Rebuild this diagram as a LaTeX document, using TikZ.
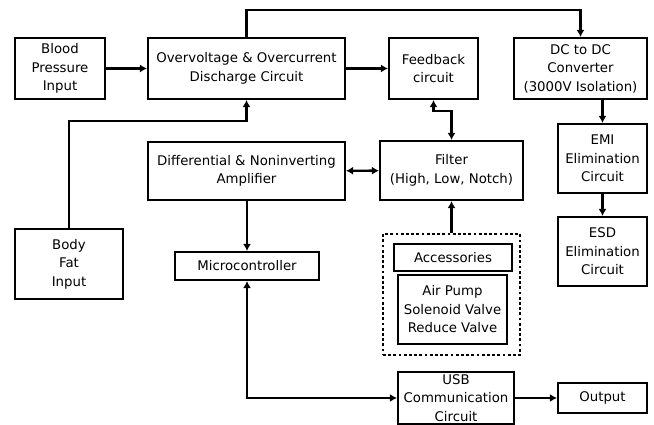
\documentclass[tikz,border=0pt]{standalone}
\usepackage{fontspec}
\setmainfont{DejaVu Sans}
\usetikzlibrary{arrows.meta}
\tikzset{every node/.style={font=\fontsize{13.3}{18.5}\selectfont}}
\colorlet{boxcol}{black}
\colorlet{linecol}{black}
\colorlet{bgcol}{white}
\tikzset{
  block/.style={draw=boxcol, line width=2.1pt, align=center, inner sep=0pt},
  frame/.style={draw=boxcol, line width=2.8pt, dash pattern=on 2.8pt off 2.4pt},
  link/.style={draw=linecol, line width=2.4pt},
}

\begin{document}
\begin{tikzpicture}[x=1pt, y=-1pt, >={Latex[length=7pt,width=8pt]}]

  % Page frame.
  \fill[bgcol] (0,0) rectangle (654,425);
  \useasboundingbox (0,0) rectangle (654,425);

  % Blocks — top row.
  \node[block, minimum width=90, minimum height=61] (bpin) at (60,68.5)
    {Blood\\Pressure\\Input};
  \node[block, minimum width=197, minimum height=61] (ovc) at (246.5,68.5)
    {Overvoltage \& Overcurrent\\Discharge Circuit};
  \node[block, minimum width=89, minimum height=61] (fb) at (433.5,68.5)
    {Feedback\\circuit};
  \node[block, minimum width=133, minimum height=61] (dcdc) at (580.5,68.5)
    {DC to DC\\Converter\\(3000V Isolation)};

  % Blocks — right column.
  \node[block, minimum width=89, minimum height=69] (emi) at (602.5,158.5)
    {EMI\\Elimination\\Circuit};
  \node[block, minimum width=89, minimum height=69] (esd) at (602.5,251.5)
    {ESD\\Elimination\\Circuit};

  % Blocks — middle.
  \node[block, minimum width=197, minimum height=58] (amp) at (246.5,171)
    {Differential \& Noninverting\\Amplifier};
  \node[block, minimum width=143, minimum height=59] (filt) at (451.5,170.5)
    {Filter\\(High, Low, Notch)};
  \node[block, minimum width=108, minimum height=70] (bfin) at (69,264)
    {Body\\Fat\\Input};
  \node[block, minimum width=144, minimum height=28] (mcu) at (247,266)
    {Microcontroller};

  % Accessories group.
  \node[frame, minimum width=137, minimum height=121] (acc) at (451.5,294.5) {};
  \node[block, minimum width=118, minimum height=27] (acclbl) at (453,257.5)
    {Accessories};
  \node[block, minimum width=109, minimum height=69] (pump) at (452.5,309.5)
    {Air Pump\\Solenoid Valve\\Reduce Valve};

  % Blocks — bottom row.
  \node[block, minimum width=116, minimum height=52] (usb) at (456,398)
    {USB\\Communication\\Circuit};
  \node[block, minimum width=89, minimum height=30] (out) at (602.5,398)
    {Output};

  % Connectors.
  \draw[link, ->] (bpin) -- (ovc);
  \draw[link, ->] (ovc) -- (fb);
  \draw[link, ->] (ovc.north) -- ++(0,-27) -| (dcdc.north);
  \draw[link, ->] (emi.north |- dcdc.south) -- (emi.north);
  \draw[link, ->] (emi) -- (esd);
  \draw[link, <->] (fb.south) -- ++(0,11) -| (filt.north);
  \draw[link, <->] (amp) -- (filt);
  \draw[link, ->] (bfin.north) -- ++(0,-107) -| (ovc.south);
  \draw[link, ->] (amp.south -| mcu.north) -- (mcu.north);
  \draw[link, ->] (acc.north) -- (filt.south);
  \draw[link, <->] (mcu.south) |- (usb.west);
  \draw[link, ->] (usb) -- (out);

\end{tikzpicture}
\end{document}
